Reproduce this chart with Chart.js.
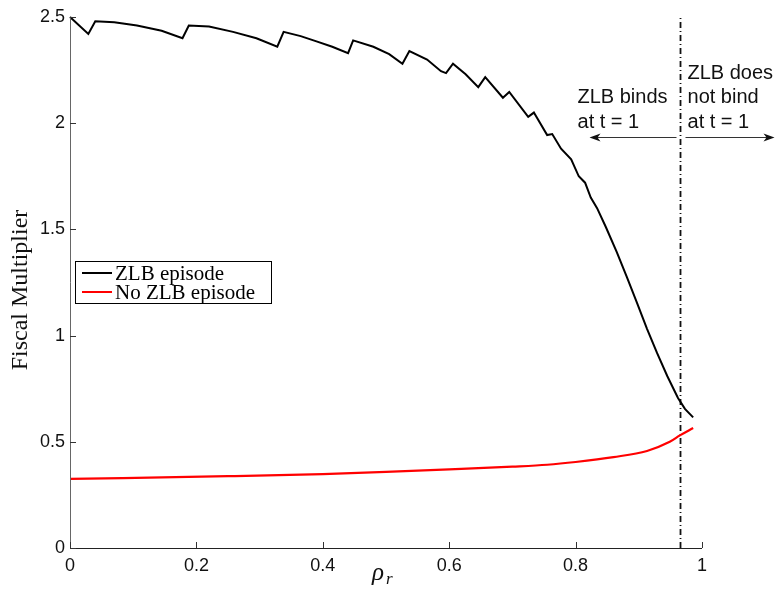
<!DOCTYPE html>
<html>
<head>
<meta charset="utf-8">
<script src="https://cdn.jsdelivr.net/npm/chart.js@4.4.1/dist/chart.umd.min.js"></script>
<style>
  html, body { margin: 0; padding: 0; background: #fff; }
  #wrap { width: 781px; height: 592px; }
</style>
</head>
<body>
<div id="wrap"><canvas id="multChart" width="781" height="592"></canvas></div>
<script>
// rho_r grid and fiscal multiplier, ZLB episode
const rhoZlb = [0.000, 0.029, 0.040, 0.070, 0.106, 0.145, 0.178, 0.188, 0.220, 0.258, 0.295, 0.328,
  0.338, 0.365, 0.390, 0.415, 0.440, 0.448, 0.480, 0.505, 0.526, 0.537, 0.565, 0.587, 0.595,
  0.606, 0.626, 0.646, 0.657, 0.685, 0.695, 0.725, 0.734, 0.755, 0.763, 0.777, 0.793, 0.805,
  0.815, 0.824, 0.834, 0.848, 0.865, 0.881, 0.897, 0.913, 0.929, 0.945, 0.962, 0.973, 0.986];
const multZlb = [2.50, 2.42, 2.48, 2.475, 2.46, 2.435, 2.40, 2.46, 2.455, 2.43, 2.40, 2.36,
  2.43, 2.41, 2.385, 2.36, 2.33, 2.39, 2.36, 2.325, 2.28, 2.34, 2.30, 2.245, 2.236,
  2.28, 2.23, 2.17, 2.217, 2.12, 2.147, 2.03, 2.05, 1.944, 1.949, 1.88, 1.83, 1.75,
  1.72, 1.65, 1.60, 1.51, 1.394, 1.276, 1.155, 1.032, 0.917, 0.810, 0.706, 0.655, 0.615];

// No ZLB episode
const rhoNoZlb = [0.00, 0.25, 0.40, 0.50, 0.60, 0.70, 0.755, 0.80, 0.86, 0.913, 0.949, 0.965, 0.986];
const multNoZlb = [0.325, 0.338, 0.348, 0.358, 0.370, 0.383, 0.392, 0.405, 0.428, 0.457, 0.500, 0.530, 0.565];

// threshold where the ZLB stops binding at t = 1
const rhoThreshold = 0.966;

const xTicks = [0, 0.2, 0.4, 0.6, 0.8, 1];
const yTicks = [0, 0.5, 1, 1.5, 2, 2.5];

const toPoints = (xs, ys) => xs.map((x, i) => ({ x: x, y: ys[i] }));

const sans = '"Liberation Sans", Arial, Helvetica, sans-serif';
const serif = '"Liberation Serif", "DejaVu Serif", serif';

// inward ticks, legend, axis labels and annotations
const decorations = {
  id: 'decorations',
  afterDraw(chart) {
    const c = chart.ctx;
    const xs = chart.scales.x, ys = chart.scales.y;
    const area = chart.chartArea;
    c.save();

    // axis lines
    c.lineWidth = 1;
    c.strokeStyle = '#666';
    c.beginPath();
    c.moveTo(area.left + 0.5, area.top);
    c.lineTo(area.left + 0.5, area.bottom + 0.5);
    c.stroke();
    c.strokeStyle = '#222';
    c.beginPath();
    c.moveTo(area.left, area.bottom + 0.5);
    c.lineTo(area.right, area.bottom + 0.5);
    c.stroke();

    // inward tick marks
    c.strokeStyle = '#333';
    c.beginPath();
    xTicks.forEach(v => {
      const px = Math.round(xs.getPixelForValue(v)) + 0.5;
      c.moveTo(px, area.bottom);
      c.lineTo(px, area.bottom - 6);
    });
    yTicks.forEach(v => {
      const py = Math.round(ys.getPixelForValue(v)) + 0.5;
      c.moveTo(area.left, py);
      c.lineTo(area.left + 6, py);
    });
    c.stroke();

    // y axis title
    c.fillStyle = '#111';
    c.font = '24px ' + serif;
    c.textAlign = 'center';
    c.textBaseline = 'middle';
    c.save();
    c.translate(21, 290);
    c.rotate(-Math.PI / 2);
    c.fillText('Fiscal Multiplier', 0, 0);
    c.restore();

    // x axis title: rho_r
    c.textAlign = 'left';
    c.textBaseline = 'alphabetic';
    c.font = 'italic 25px ' + serif;
    c.fillText('\u03C1', 372, 580);
    c.font = 'italic 17px ' + serif;
    c.fillText('r', 386, 584);

    // legend
    const lx = 75, ly = 261, lw = 196, lh = 42;
    c.fillStyle = '#fff';
    c.fillRect(lx, ly, lw, lh);
    c.strokeStyle = '#000';
    c.lineWidth = 1;
    c.strokeRect(lx + 0.5, ly + 0.5, lw, lh);
    c.font = '21px ' + serif;
    c.textBaseline = 'middle';
    chart.data.datasets.slice(0, 2).forEach((ds, i) => {
      const y = ly + 12 + i * 19;
      c.strokeStyle = ds.borderColor;
      c.lineWidth = 2;
      c.beginPath();
      c.moveTo(lx + 7, y);
      c.lineTo(lx + 37, y);
      c.stroke();
      c.fillStyle = '#000';
      c.fillText(ds.label, lx + 40, y + 1);
    });

    // annotations around the threshold line
    const tx = xs.getPixelForValue(rhoThreshold);
    c.font = '20px ' + sans;
    c.fillStyle = '#111';
    c.textBaseline = 'alphabetic';
    c.textAlign = 'left';
    c.fillText('ZLB binds', tx - 103, 103);
    c.fillText('at t = 1', tx - 103, 128);
    c.fillText('ZLB does', tx + 7, 79);
    c.fillText('not bind', tx + 7, 103);
    c.fillText('at t = 1', tx + 7, 128);

    const arrowY = 137;
    c.strokeStyle = '#333';
    c.fillStyle = '#111';
    c.lineWidth = 1;
    c.beginPath();
    c.moveTo(tx - 4, arrowY + 0.5);
    c.lineTo(tx - 89, arrowY + 0.5);
    c.moveTo(tx + 5, arrowY + 0.5);
    c.lineTo(tx + 92, arrowY + 0.5);
    c.stroke();
    // arrow heads
    c.beginPath();
    c.moveTo(tx - 91, arrowY + 0.5);
    c.lineTo(tx - 80, arrowY - 3.5);
    c.lineTo(tx - 83, arrowY + 0.5);
    c.lineTo(tx - 80, arrowY + 4.5);
    c.closePath();
    c.fill();
    c.beginPath();
    c.moveTo(tx + 94, arrowY + 0.5);
    c.lineTo(tx + 83, arrowY - 3.5);
    c.lineTo(tx + 86, arrowY + 0.5);
    c.lineTo(tx + 83, arrowY + 4.5);
    c.closePath();
    c.fill();

    c.restore();
  }
};

const ctx = document.getElementById('multChart').getContext('2d');

new Chart(ctx, {
  type: 'line',
  data: {
    datasets: [{
      label: 'ZLB episode',
      data: toPoints(rhoZlb, multZlb),
      borderColor: '#000000',
      borderWidth: 2,
      pointRadius: 0,
      tension: 0,
      clip: false
    }, {
      label: 'No ZLB episode',
      data: toPoints(rhoNoZlb, multNoZlb),
      borderColor: '#ff0000',
      borderWidth: 2.2,
      pointRadius: 0,
      cubicInterpolationMode: 'monotone',
      clip: false
    }, {
      label: 'threshold',
      data: toPoints([rhoThreshold, rhoThreshold], [0, 2.51]),
      borderColor: '#111111',
      borderWidth: 1.8,
      borderDash: [6, 3, 1, 3],
      pointRadius: 0,
      clip: false
    }]
  },
  options: {
    responsive: false,
    animation: false,
    layout: { padding: { top: 17, right: 79, left: 0, bottom: 0 } },
    plugins: {
      legend: { display: false },
      tooltip: { enabled: false }
    },
    scales: {
      x: {
        type: 'linear',
        min: 0,
        max: 1,
        border: { display: false },
        grid: { display: false, drawTicks: false },
        afterBuildTicks: s => { s.ticks = xTicks.map(v => ({ value: v })); },
        afterFit: s => { s.height = 44; },
        ticks: {
          color: '#111',
          padding: 7,
          maxRotation: 0,
          font: { family: sans, size: 18 },
          callback: v => String(v)
        }
      },
      y: {
        min: 0,
        max: 2.5,
        border: { display: false },
        grid: { display: false, drawTicks: false },
        afterBuildTicks: s => { s.ticks = yTicks.map(v => ({ value: v })); },
        afterFit: s => { s.width = 70; },
        ticks: {
          color: '#111',
          padding: 5,
          font: { family: sans, size: 18 },
          callback: v => String(v)
        }
      }
    }
  },
  plugins: [decorations]
});
</script>
</body>
</html>
